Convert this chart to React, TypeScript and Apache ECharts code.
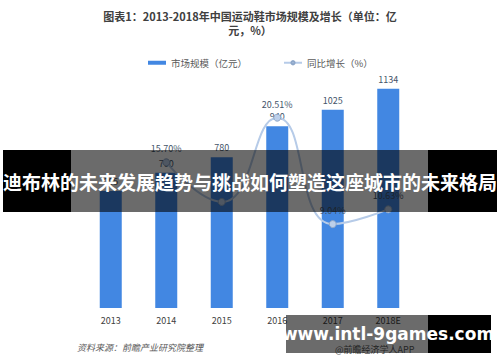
import React, { useEffect, useRef } from "react";
import * as echarts from "echarts";

const categories = ["2013", "2014", "2015", "2016", "2017", "2018E"];
const marketSize = [605, 700, 780, 940, 1025, 1134];
const growth: (number | string)[] = ["-", 15.7, 11.43, 20.51, 9.04, 10.63];
const growthLabels = ["", "15.70%", "", "20.51%", "9.04%", "10.63%"];

const titleText = "图表1：2013-2018年中国运动鞋市场规模及增长（单位：亿\n元，%）";
const sourceText = "资料来源：前瞻产业研究院整理";
const creditText = "@前瞻经济学人APP";
const bannerText = "迪布林的未来发展趋势与挑战如何塑造这座城市的未来格局";
const siteText = "www.intl-9games.com";

const FONT = '"Noto Sans CJK SC", "Noto Sans", sans-serif';

export default function App() {
  const ref = useRef<HTMLDivElement>(null);
  useEffect(() => {
    if (!ref.current) return;
    const chart = echarts.init(ref.current, null, { renderer: "svg" });
    chart.setOption({
      animation: false,
      backgroundColor: "#ffffff",
      textStyle: { fontFamily: FONT },
      title: {
        text: titleText,
        left: "center",
        top: 4,
        textStyle: { fontSize: 11, fontWeight: "bold", color: "#404040", lineHeight: 14, fontFamily: FONT },
      },
      legend: {
        left: 143,
        top: 53,
        itemGap: 36,
        itemWidth: 18,
        itemHeight: 4,
        textStyle: { fontSize: 9.5, color: "#595959", fontFamily: FONT },
        data: [
          { name: "市场规模（亿元）", icon: "rect" },
          { name: "同比增长（%）" },
        ],
      },
      grid: { left: 83, right: 84, top: 76, bottom: 54 },
      xAxis: {
        type: "category",
        data: categories,
        axisLine: { show: false },
        axisTick: { show: false },
        axisLabel: { fontSize: 9, color: "#404040", margin: 8 },
      },
      yAxis: [
        { type: "value", min: 0, max: 1200, show: false, splitLine: { show: false } },
        { type: "value", min: 0, max: 25, show: false, splitLine: { show: false } },
      ],
      series: [
        {
          name: "市场规模（亿元）",
          type: "bar",
          data: marketSize,
          barWidth: 22,
          itemStyle: { color: "#4287e2" },
          label: { show: true, position: "top", distance: 5, fontSize: 9, color: "#44546a" },
        },
        {
          name: "同比增长（%）",
          type: "line",
          yAxisIndex: 1,
          data: growth,
          smooth: 0.5,
          symbol: "circle",
          symbolSize: 7,
          lineStyle: { color: "#b6cbe8", width: 2 },
          itemStyle: { color: "#bccfea", borderColor: "#8ea7c9", borderWidth: 1 },
          label: {
            show: true,
            position: "top",
            distance: 5,
            fontSize: 9,
            color: "#44546a",
            formatter: (p: any) => growthLabels[p.dataIndex],
          },
          z: 5,
        },
      ],
      graphic: [
        {
          type: "text",
          left: 77,
          top: 343,
          style: { text: sourceText, fontSize: 9, fontStyle: "italic", fill: "#595959", fontFamily: FONT },
        },
        {
          type: "text",
          left: 335,
          top: 345,
          style: { text: creditText, fontSize: 9, fill: "#595959", fontFamily: FONT },
          z: 10,
        },
        { type: "rect", shape: { x: 3, y: 150, width: 68, height: 62 }, style: { fill: "#000000" }, z: 100 },
        { type: "rect", shape: { x: 71, y: 150, width: 357, height: 62 }, style: { fill: "rgba(0,0,0,0.58)" }, z: 100 },
        { type: "rect", shape: { x: 428, y: 150, width: 69, height: 62 }, style: { fill: "#000000" }, z: 100 },
        {
          type: "text",
          x: 250,
          y: 181,
          style: {
            text: bannerText,
            fontSize: 19,
            fontWeight: "bold",
            fill: "#ffffff",
            align: "center",
            verticalAlign: "middle",
            fontFamily: FONT,
          },
          z: 101,
        },
        { type: "rect", shape: { x: 286, y: 315, width: 142, height: 38 }, style: { fill: "rgba(0,0,0,0.58)" }, z: 100 },
        { type: "rect", shape: { x: 428, y: 315, width: 63, height: 38 }, style: { fill: "#000000" }, z: 100 },
        {
          type: "text",
          x: 388,
          y: 334,
          style: {
            text: siteText,
            fontSize: 17,
            fontWeight: "bold",
            fill: "#ffffff",
            align: "center",
            verticalAlign: "middle",
            fontFamily: '"DejaVu Sans", sans-serif',
          },
          z: 101,
        },
      ],
    });
    return () => chart.dispose();
  }, []);
  return <div ref={ref} style={{ width: 500, height: 362, position: "absolute", left: 0, top: 0 }} />;
}
